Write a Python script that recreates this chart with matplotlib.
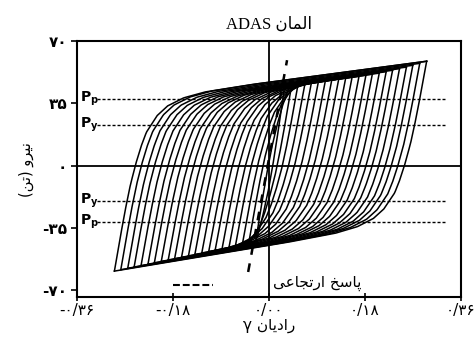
import numpy as np
import matplotlib
matplotlib.use("Agg")
import matplotlib.pyplot as plt

plt.rcParams['font.family'] = ['DejaVu Sans']

# loop amplitudes (rad) and peak forces (ton)
pos_amp = [0.030, 0.043, 0.055, 0.068, 0.080, 0.093, 0.106, 0.118, 0.131, 0.144, 0.156,
           0.169, 0.182, 0.194, 0.207, 0.220, 0.232, 0.245, 0.258, 0.270, 0.283, 0.296]
pos_force = [45.5, 45.9, 46.3, 46.7, 47.1, 47.5, 47.9, 48.3, 48.7, 49.2, 49.7,
             50.2, 50.8, 51.4, 52.0, 52.8, 53.6, 54.5, 55.4, 56.4, 57.5, 58.7]
neg_amp = [0.025, 0.038, 0.050, 0.063, 0.075, 0.088, 0.101, 0.113, 0.126, 0.139, 0.151,
           0.164, 0.177, 0.189, 0.202, 0.215, 0.227, 0.240, 0.253, 0.265, 0.278, 0.290]
neg_force = [-42.9, -43.8, -44.5, -45.3, -46.1, -46.9, -47.7, -48.4, -49.2, -50.0, -50.8,
             -51.6, -52.4, -53.1, -53.9, -54.7, -55.5, -56.3, -57.1, -57.8, -58.6, -59.4]

# shape of a branch after reversal: distance from reversal vs. remaining fraction
shape_d = [0, .01, .02, .03, .04, .05, .06, .08, .10, .13, .17, .25, .8]
shape_f = [1, .82, .65, .5, .38, .28, .2, .11, .06, .025, .007, 0, 0]

# elastic response line and yield / plastic levels
elastic_x = [-0.039, 0.034]
elastic_y = [-59.9, 59.3]
p_levels = [37.4, 22.8, -20.0, -31.8]
p_names = ['p', 'y', 'y', 'p']

yticks = [70, 35, 0, -35, -70]
ytick_labels = ['۷۰', '۳۵', '۰', '-۳۵', '-۷۰']
xticks = [-0.36, -0.18, 0.0, 0.18, 0.36]
xtick_labels = ['-۰/۳۶', '-۰/۱۸', '۰/۰۰', '۰/۱۸', '۰/۳۶']

# Arabic script written in presentation forms, visual order
title_txt = 'ADAS ' + '\uFEE5\uFE8E\uFEE4\uFEDF\uFE8D'
ylabel_txt = '(\uFEE6\uFE97) \uFEED\uFEAE\uFBFF\uFEE7'
xlabel_txt = '\u03b3 ' + '\uFEE5\uFE8E\uFBFE\uFEA9\uFE8D\uFEAD'
legend_txt = '\uFBFD\uFECB\uFE8E\uFEA0\uFE97\uFEAD\uFE8D \uFEA6\uFEB3\uFE8E\uFB58'


def branch(x0, f0, x1, f1, slope):
    x = np.linspace(x0, x1, 300)
    base = f1 + slope * (x - x1)
    g = np.interp(np.abs(x - x0), shape_d, shape_f)
    gD = np.interp(abs(x1 - x0), shape_d, shape_f)
    g = (g - gD) / (1 - gD)
    return x, base + (f0 - (f1 + slope * (x0 - x1))) * g


fig = plt.figure(figsize=(4.76, 3.43), dpi=100)
ax = fig.add_axes([0.162, 0.134, 0.806, 0.746])

for yv in p_levels:
    ax.plot([-0.3225, 0.33], [yv, yv], color='k', lw=1.0, ls=(0, (2.2, 1.4)), zorder=2)
for yv, nm in zip(p_levels, p_names):
    ax.text(-0.355, yv, r'$\mathbf{P_' + nm + '}$', fontsize=10, ha='left', va='center')

n = len(pos_amp)
for k in range(n):
    x, f = branch(pos_amp[k], pos_force[k], -neg_amp[k], neg_force[k], 50)
    ax.plot(x, f, color='k', lw=1.1, zorder=3)
    j = min(k + 1, n - 1)
    x, f = branch(-neg_amp[k], neg_force[k], pos_amp[j], pos_force[j], 40)
    ax.plot(x, f, color='k', lw=1.1, zorder=3)

ax.plot(elastic_x, elastic_y, color='k', lw=1.8, ls=(0, (3.5, 3.5)), zorder=4)

ax.axhline(0, color='k', lw=1.3, zorder=1)
ax.axvline(0, color='k', lw=1.3, zorder=1)

ax.plot([-0.18, -0.105], [-67.3, -67.3], color='k', lw=1.5, ls=(0, (3.3, 1.4)))
ax.text(0.09, -66.5, legend_txt, fontsize=11, ha='center', va='center')

ax.set_xlim(-0.36, 0.36)
ax.set_ylim(-74, 70)
ax.set_xticks(xticks)
ax.set_xticklabels(xtick_labels, fontsize=11)
ax.set_yticks(yticks)
ax.set_yticklabels(ytick_labels, fontsize=11, fontweight='bold')
ax.tick_params(axis='y', direction='out', length=4, width=1.2, pad=3)
ax.tick_params(axis='x', direction='inout', length=6, width=1.2, pad=1)
for s in ax.spines.values():
    s.set_linewidth(1.5)

ax.set_xlabel(xlabel_txt, fontsize=11, labelpad=0)
ax.set_ylabel(ylabel_txt, fontsize=10.5, labelpad=6)
ax.set_title(title_txt, fontsize=12, pad=9, family=['Liberation Serif', 'DejaVu Sans'])

fig.savefig('out.png', dpi=100)
